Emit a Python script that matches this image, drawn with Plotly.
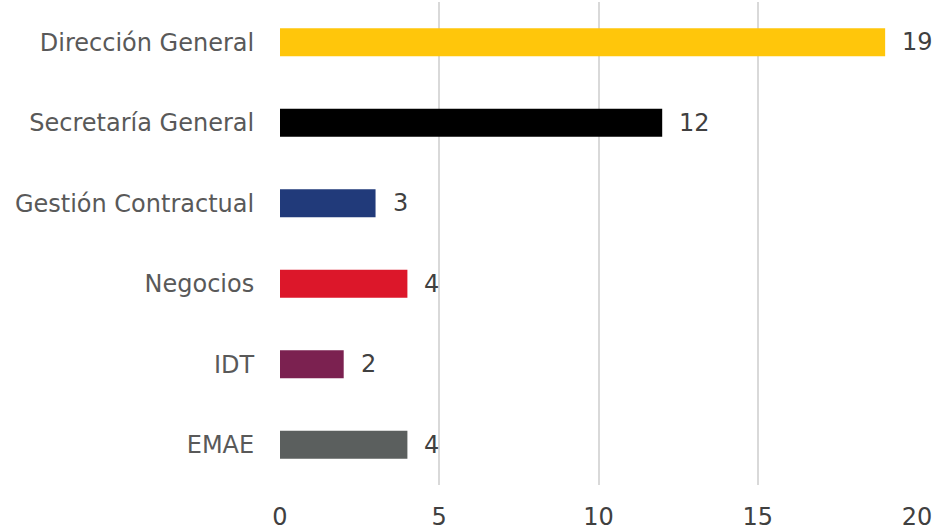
import plotly.graph_objects as go

categories = ["Dirección General", "Secretaría General", "Gestión Contractual", "Negocios", "IDT", "EMAE"]
values = [19, 12, 3, 4, 2, 4]
colors = ["#FFC60B", "#000000", "#213A7A", "#DC172A", "#7B2150", "#5B5F5E"]
x_ticks = [0, 5, 10, 15, 20]

fig = go.Figure(go.Bar(
    x=values, y=categories, orientation="h",
    marker=dict(color=colors, line=dict(width=0)),
    width=0.35,
))

for c, v in zip(categories, values):
    fig.add_annotation(x=v, y=c, text=str(v), showarrow=False, xanchor="left", xshift=15,
                       font=dict(family="DejaVu Sans", size=24, color="#404040"))

fig.update_layout(
    width=945, height=532,
    margin=dict(l=280, r=28, t=2, b=47),
    paper_bgcolor="white", plot_bgcolor="white",
    showlegend=False,
    font=dict(family="DejaVu Sans", size=24, color="#595959"),
)
fig.update_xaxes(range=[0, 20], tickvals=x_ticks, showgrid=True, gridcolor="#D9D9D9", gridwidth=2,
                 zeroline=False, showline=False, ticks="outside", ticklen=10, tickcolor="rgba(0,0,0,0)",
                 tickfont=dict(color="#404040", size=24), automargin=False)
fig.update_yaxes(autorange="reversed", showgrid=False, showline=False, ticks="outside", ticklen=20,
                 tickcolor="rgba(0,0,0,0)", automargin=False)

fig.write_html("out.html", post_script="document.body.style.margin='0';",
               config={"displayModeBar": False})
